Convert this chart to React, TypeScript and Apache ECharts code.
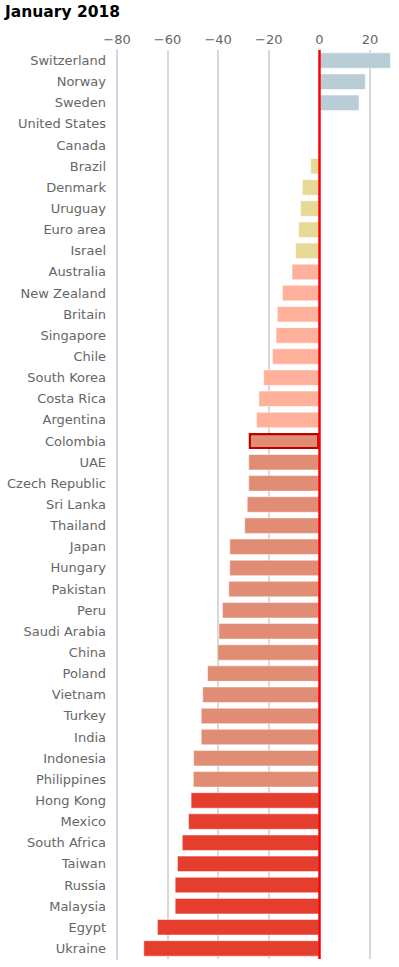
import { useEffect, useRef } from "react";
import * as echarts from "echarts";

const title = "January 2018";

const countries = [
  "Switzerland", "Norway", "Sweden", "United States", "Canada", "Brazil",
  "Denmark", "Uruguay", "Euro area", "Israel", "Australia", "New Zealand",
  "Britain", "Singapore", "Chile", "South Korea", "Costa Rica", "Argentina",
  "Colombia", "UAE", "Czech Republic", "Sri Lanka", "Thailand", "Japan",
  "Hungary", "Pakistan", "Peru", "Saudi Arabia", "China", "Poland",
  "Vietnam", "Turkey", "India", "Indonesia", "Philippines", "Hong Kong",
  "Mexico", "South Africa", "Taiwan", "Russia", "Malaysia", "Egypt", "Ukraine",
];

const values = [
  28.2, 18.3, 15.8, 0, 0, -3.5,
  -6.8, -7.5, -8.3, -9.5, -10.9, -14.7,
  -16.7, -17.2, -18.6, -22.1, -24.0, -24.9,
  -27.9, -28.0, -28.0, -28.6, -29.6, -35.5,
  -35.5, -35.9, -38.4, -39.8, -40.3, -44.3,
  -46.2, -46.8, -46.8, -49.8, -49.9, -50.8,
  -51.8, -54.3, -56.2, -57.1, -57.1, -64.1, -69.5,
];

const highlighted = "Colombia";

const axisMin = -80;
const axisMax = 31.5;
const axisStep = 20;
const gridTicks = [-80, -60, -40, -20, 20];

function bandColour(v: number): string {
  if (v > 0) return "#b9cdd7";
  if (v > -10) return "#e6d996";
  if (v > -25) return "#ffb19c";
  if (v > -50) return "#e18c75";
  return "#e63e2d";
}

export default function App() {
  const ref = useRef<HTMLDivElement>(null);

  useEffect(() => {
    document.body.style.margin = "0";
    const chart = echarts.init(ref.current!, null, { renderer: "svg" });
    const font = "DejaVu Sans";
    chart.setOption({
      animation: false,
      title: {
        text: title,
        left: 5,
        top: 4,
        padding: 0,
        textStyle: { fontFamily: font, fontSize: 15.5, fontWeight: "bold", color: "#000" },
      },
      grid: { left: 117, right: 0, top: 50, bottom: 8, containLabel: false },
      xAxis: {
        type: "value",
        position: "top",
        min: axisMin,
        max: axisMax,
        interval: axisStep,
        axisLine: { show: false },
        axisTick: { show: false },
        axisLabel: {
          showMaxLabel: false,
          margin: 4,
          color: "#666666",
          fontSize: 13,
          fontFamily: font,
          formatter: (v: number) => String(v).replace("-", "\u2212"),
        },
        splitLine: { show: false },
      },
      yAxis: {
        type: "category",
        data: countries,
        inverse: true,
        axisLine: { onZero: false, lineStyle: { color: "#ccd6eb", width: 2 } },
        axisTick: { show: false },
        axisLabel: { margin: 11, color: "#666666", fontSize: 13, fontFamily: font },
        splitLine: { show: false },
        z: 3,
      },
      series: [
        {
          type: "line",
          data: [],
          z: 0,
          silent: true,
          markLine: {
            z: 0,
            silent: true,
            symbol: ["none", "none"],
            label: { show: false },
            lineStyle: { color: "#d8d8d8", width: 2, type: "solid" },
            data: gridTicks.map((t) => ({ xAxis: t })),
          },
        },
        {
          type: "bar",
          barWidth: 16,
          z: 2,
          data: values.map((v, i) => ({
            value: v,
            itemStyle:
              countries[i] === highlighted
                ? { color: bandColour(v), borderColor: "#c00000", borderWidth: 2.2 }
                : { color: bandColour(v), borderColor: "#ffffff", borderWidth: 0.5 },
          })),
          markLine: {
            z: 5,
            silent: true,
            symbol: ["none", "none"],
            label: { show: false },
            lineStyle: { color: "#ff0000", width: 2.5, type: "solid" },
            data: [{ xAxis: 0 }],
          },
        },
      ],
    });
    return () => chart.dispose();
  }, []);

  return <div ref={ref} style={{ width: 399, height: 967 }} />;
}
